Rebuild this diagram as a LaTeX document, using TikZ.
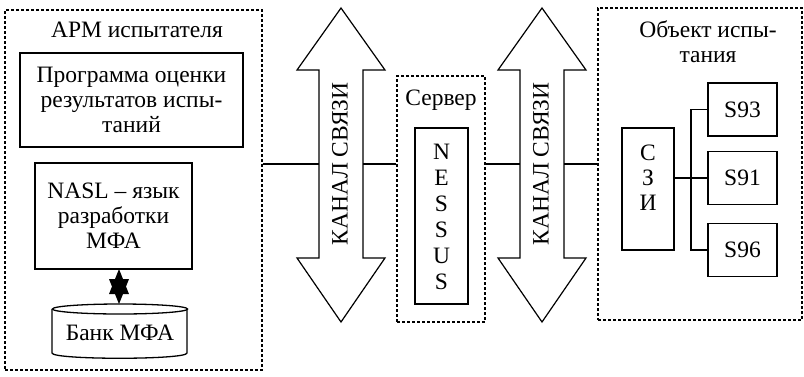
\documentclass[tikz,border=0pt]{standalone}
\usepackage{fontspec}
\setmainfont{Liberation Serif}
\usetikzlibrary{calc}
\begin{document}
\begin{tikzpicture}[x=1pt,y=-1pt,
 dbox/.style={draw, line width=1.3pt, dash pattern=on 3pt off 2pt, inner sep=0pt},
 sbox/.style={draw, line width=1.3pt, inner sep=0pt},
 txt/.style={font=\fontsize{23.5}{25}\selectfont, align=center, inner sep=0pt},
 link/.style={line width=2.6pt},
 bus/.style={line width=1.1pt},
 chan/.style={draw, line width=1.2pt, fill=white, line join=miter}
]
\useasboundingbox (0,0) rectangle (804,376);

% ---- left group
\node[dbox, minimum width=257, minimum height=360] (arm) at (133.5,190) {};
\node[txt] (armt) at (137,30) {АРМ испытателя};
\node[sbox, txt, minimum width=223, minimum height=94] (prog) at (131.5,100)
  {Программа оценки\\результатов испы-\\таний};
\node[sbox, txt, minimum width=157, minimum height=106] (nasl) at (113.5,216)
  {NASL -- язык\\разработки\\МФА};
\node[txt] (bank) at (120,333) {Банк МФА};
\draw[line width=1.3pt] (52,309) -- (52,353) .. controls (52,360) and (187,360) .. (187,353) -- (187,309);
\draw[line width=1.3pt] (120,309) ellipse [x radius=67.5, y radius=5];
\coordinate (st) at (119,269);
\coordinate (sb) at (119,304);
\fill (st) -- ++(-10,25) -- ++(20,0) -- cycle;
\fill (sb) -- ++(-10,-25) -- ++(20,0) -- cycle;

% ---- channel arrows
\draw[chan] (341,8) -- (385,70) -- (363,70) -- (363,258) -- (385,258) -- (341,322)
  -- (297,258) -- (319,258) -- (319,70) -- (297,70) -- cycle;
\node[txt, rotate=90] (k1) at (340,164) {КАНАЛ СВЯЗИ};
\coordinate (k1w) at (319,164);
\coordinate (k1e) at (363,164);

\draw[chan] (542,8) -- (586,70) -- (564,70) -- (564,258) -- (586,258) -- (542,322)
  -- (498,258) -- (520,258) -- (520,70) -- (498,70) -- cycle;
\node[txt, rotate=90] (k2) at (541,164) {КАНАЛ СВЯЗИ};
\coordinate (k2w) at (520,164);
\coordinate (k2e) at (564,164);

% ---- server
\node[dbox, minimum width=88, minimum height=246] (srv) at (441,199) {};
\node[txt] (srvt) at (441,100) {Сервер};
\node[sbox, minimum width=53, minimum height=176] (nes) at (441.5,216) {};
\node[txt, font=\fontsize{23.5}{26}\selectfont] (nest) at (441.5,217) {N\\E\\S\\S\\U\\S};

% ---- object
\node[dbox, minimum width=204, minimum height=312] (obj) at (700,164) {};
\node[txt] (objt) at (708,42) {Объект испы-\\тания};
\node[sbox, minimum width=52, minimum height=122] (szi) at (648,189) {};
\node[txt] (szit) at (648,178) {С\\З\\И};
\node[sbox, txt, minimum width=69, minimum height=53] (s93) at (742.5,109.5) {S93};
\node[sbox, txt, minimum width=69, minimum height=53] (s91) at (742.5,178) {S91};
\node[sbox, txt, minimum width=69, minimum height=53] (s96) at (742.5,250) {S96};
\coordinate (bx) at (691,0);
\draw[bus] (s93.west) -- (s93.west -| bx) -- (s96.west -| bx) -- (s96.west);
\draw[bus] (szi.east |- s91.west) -- (s91.west);

% ---- links
\draw[link] (k1w -| arm.east) -- (k1w);
\draw[link] (k1e) -- (k1e -| srv.west);
\draw[link] (k2w -| srv.east) -- (k2w);
\draw[link] (k2e) -- (k2e -| obj.west);
\end{tikzpicture}
\end{document}
